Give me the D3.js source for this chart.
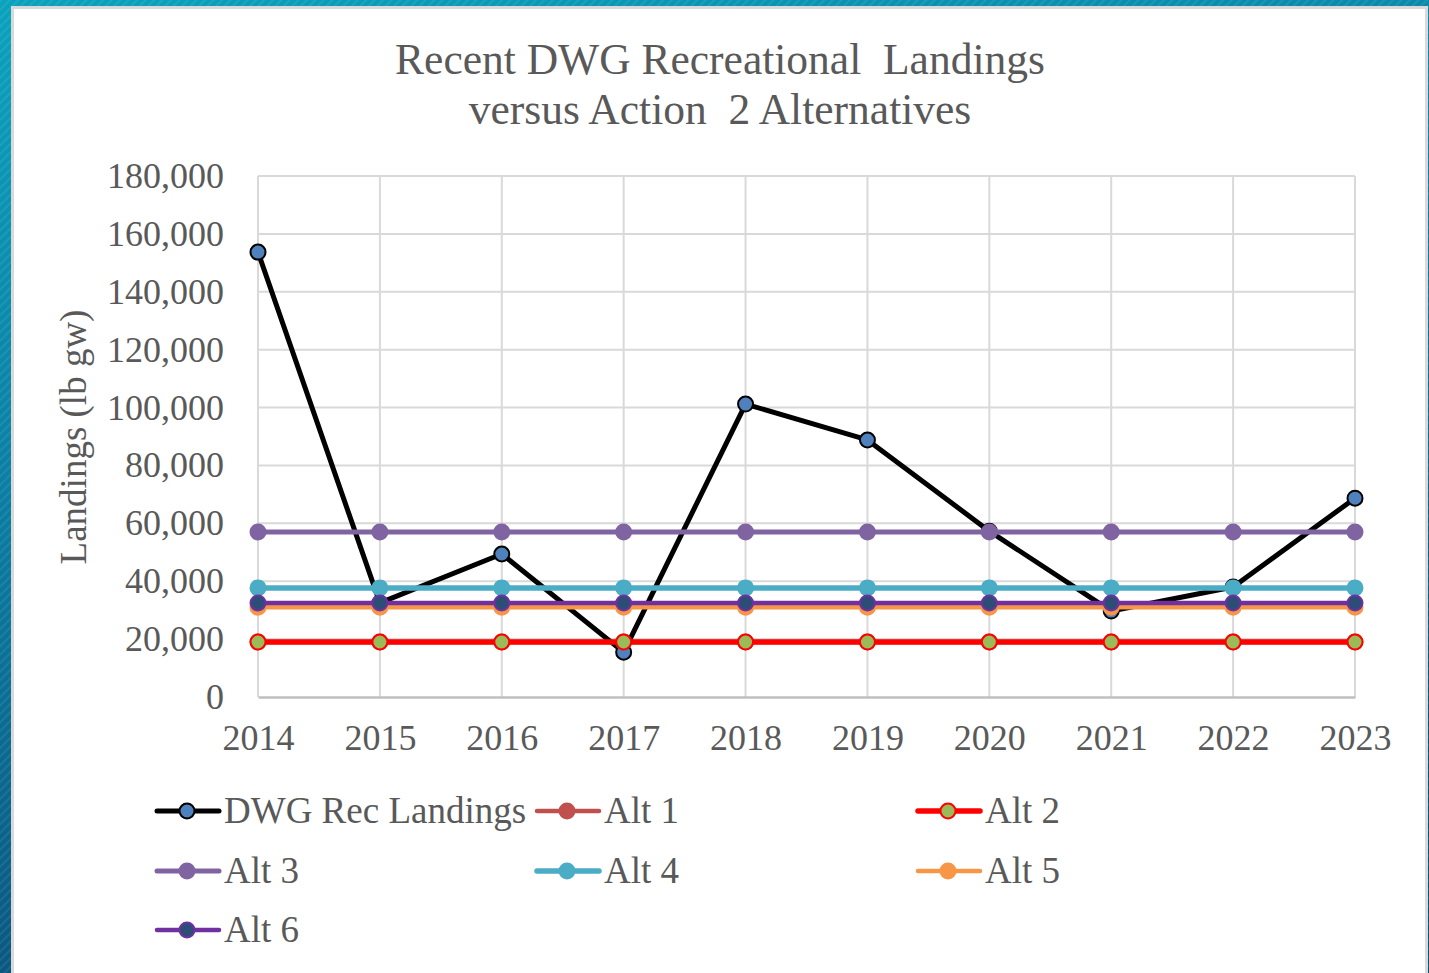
<!DOCTYPE html>
<html>
<head>
<meta charset="utf-8">
<script src="https://cdn.jsdelivr.net/npm/d3@7"></script>
<style>
  html, body { margin: 0; padding: 0; background: #0b5f86; }
  svg { display: block; }
  text { font-family: "Liberation Serif", "Times New Roman", serif; fill: #595959; }
</style>
</head>
<body>
<div id="chart"></div>
<script>
// values
const years = [2014, 2015, 2016, 2017, 2018, 2019, 2020, 2021, 2022, 2023]
const dwgRec = [153700, 32500, 49400, 15500, 101200, 88800, 57300, 29700, 38000, 68700]
const alt1 = [19000, 19000, 19000, 19000, 19000, 19000, 19000, 19000, 19000, 19000]
const alt2 = [19000, 19000, 19000, 19000, 19000, 19000, 19000, 19000, 19000, 19000]
const alt3 = [57000, 57000, 57000, 57000, 57000, 57000, 57000, 57000, 57000, 57000]
const alt4 = [37700, 37700, 37700, 37700, 37700, 37700, 37700, 37700, 37700, 37700]
const alt5 = [31000, 31000, 31000, 31000, 31000, 31000, 31000, 31000, 31000, 31000]
const alt6 = [32500, 32500, 32500, 32500, 32500, 32500, 32500, 32500, 32500, 32500]
const yTicks = [0, 20000, 40000, 60000, 80000, 100000, 120000, 140000, 160000, 180000]
const titleLines = ['Recent DWG Recreational  Landings', 'versus Action  2 Alternatives']

// series styling, drawn in this order (later on top)
const series = [
  { name: 'DWG Rec Landings', values: dwgRec, line: '#000000', fill: '#4f81bd', stroke: '#000000', lw: 5 },
  { name: 'Alt 1', values: alt1, line: '#c0504d', fill: '#c0504d', stroke: '#c0504d', lw: 4.5 },
  { name: 'Alt 2', values: alt2, line: '#ff0000', fill: '#9bbb59', stroke: '#ff0000', lw: 5.5 },
  { name: 'Alt 3', values: alt3, line: '#8064a2', fill: '#8064a2', stroke: '#8064a2', lw: 5 },
  { name: 'Alt 4', values: alt4, line: '#4bacc6', fill: '#4bacc6', stroke: '#4bacc6', lw: 5.5 },
  { name: 'Alt 5', values: alt5, line: '#f79646', fill: '#f79646', stroke: '#f79646', lw: 4.5 },
  { name: 'Alt 6', values: alt6, line: '#7030a0', fill: '#2c4d75', stroke: '#7030a0', lw: 4.5 },
]

const width = 1429
const height = 973
const margin = { top: 176, right: 74, bottom: 276, left: 258 }

const svg = d3.select('#chart').append('svg')
  .attr('width', width)
  .attr('height', height)

// blue slide background
const defs = svg.append('defs')
const grad = defs.append('linearGradient').attr('id', 'bg')
  .attr('x1', 0).attr('y1', 0).attr('x2', 0.35).attr('y2', 1)
grad.append('stop').attr('offset', 0).attr('stop-color', '#0aa2bd')
grad.append('stop').attr('offset', 0.45).attr('stop-color', '#0b7ea3')
grad.append('stop').attr('offset', 1).attr('stop-color', '#0a4f78')
const stripes = defs.append('pattern').attr('id', 'stripes')
  .attr('width', 6).attr('height', 6)
  .attr('patternUnits', 'userSpaceOnUse')
  .attr('patternTransform', 'rotate(45)')
stripes.append('rect').attr('width', 2).attr('height', 6).attr('fill', 'rgba(255,255,255,0.08)')

svg.append('rect').attr('width', width).attr('height', height).attr('fill', 'url(#bg)')
svg.append('rect').attr('width', width).attr('height', height).attr('fill', 'url(#stripes)')

// white chart panel
svg.append('rect')
  .attr('x', 12.5).attr('y', 7.5)
  .attr('width', 1414).attr('height', 980)
  .attr('fill', '#ffffff')
  .attr('stroke', '#d9d9d9')
  .attr('stroke-width', 3)

const x = d3.scalePoint()
  .domain(years)
  .range([margin.left, width - margin.right])

const y = d3.scaleLinear()
  .domain([0, 180000])
  .range([height - margin.bottom, margin.top])

// title
svg.append('g').selectAll('text')
  .data(titleLines)
  .join('text')
  .attr('x', 720)
  .attr('y', (d, i) => 74 + i * 50)
  .attr('text-anchor', 'middle')
  .style('font-size', '43.5px')
  .style('white-space', 'pre')
  .text(d => d)

// gridlines
const grid = svg.append('g')
grid.selectAll('line.h')
  .data(yTicks.slice(1))
  .join('line')
  .attr('class', 'h')
  .attr('x1', margin.left).attr('x2', width - margin.right)
  .attr('y1', d => y(d)).attr('y2', d => y(d))
  .attr('stroke', '#d9d9d9').attr('stroke-width', 2)
grid.selectAll('line.v')
  .data(years)
  .join('line')
  .attr('class', 'v')
  .attr('x1', d => x(d)).attr('x2', d => x(d))
  .attr('y1', y(180000)).attr('y2', y(0))
  .attr('stroke', '#d9d9d9').attr('stroke-width', 2)

// axes
const yAxis = svg.append('g')
  .attr('transform', `translate(${margin.left},0)`)
  .call(d3.axisLeft(y).tickValues(yTicks).tickFormat(d3.format(',')).tickSize(0).tickPadding(34))
  .attr('font-family', null)
  .attr('font-size', null)
yAxis.select('.domain').remove()
yAxis.selectAll('text')
  .attr('fill', '#595959')
  .style('font-size', '36px')

const xAxis = svg.append('g')
  .attr('transform', `translate(0,${y(0)})`)
  .call(d3.axisBottom(x).tickSize(0).tickPadding(27))
  .attr('font-family', null)
  .attr('font-size', null)
xAxis.select('.domain').attr('stroke', '#bfbfbf').attr('stroke-width', 2.5)
xAxis.selectAll('text')
  .attr('fill', '#595959')
  .style('font-size', '36px')

// y axis title
svg.append('text')
  .attr('transform', 'translate(86,437) rotate(-90)')
  .attr('text-anchor', 'middle')
  .style('font-size', '37px')
  .text('Landings (lb gw)')

// lines and markers
const lineGen = d3.line()
  .x((d, i) => x(years[i]))
  .y(d => y(d))

const plot = svg.append('g')
series.forEach(s => {
  const g = plot.append('g')
  g.append('path')
    .datum(s.values)
    .attr('d', lineGen)
    .attr('fill', 'none')
    .attr('stroke', s.line)
    .attr('stroke-width', s.lw)
    .attr('stroke-linejoin', 'round')
  g.selectAll('circle')
    .data(s.values)
    .join('circle')
    .attr('cx', (d, i) => x(years[i]))
    .attr('cy', d => y(d))
    .attr('r', 7.5)
    .attr('fill', s.fill)
    .attr('stroke', s.stroke)
    .attr('stroke-width', 2)
})

// legend
const legendCols = [157, 537, 918]
const legendRows = [811, 871, 930]
const legend = svg.append('g')
  .selectAll('g')
  .data(series)
  .join('g')
  .attr('transform', (d, i) => `translate(${legendCols[i % 3]},${legendRows[Math.floor(i / 3)]})`)
legend.append('line')
  .attr('x1', 0).attr('x2', 62)
  .attr('y1', 0).attr('y2', 0)
  .attr('stroke', d => d.line)
  .attr('stroke-width', d => d.lw)
  .attr('stroke-linecap', 'round')
legend.append('circle')
  .attr('cx', 30).attr('cy', 0).attr('r', 7.5)
  .attr('fill', d => d.fill)
  .attr('stroke', d => d.stroke)
  .attr('stroke-width', 2)
legend.append('text')
  .attr('x', 67)
  .attr('y', 12)
  .style('font-size', '37px')
  .text(d => d.name)
</script>
</body>
</html>
